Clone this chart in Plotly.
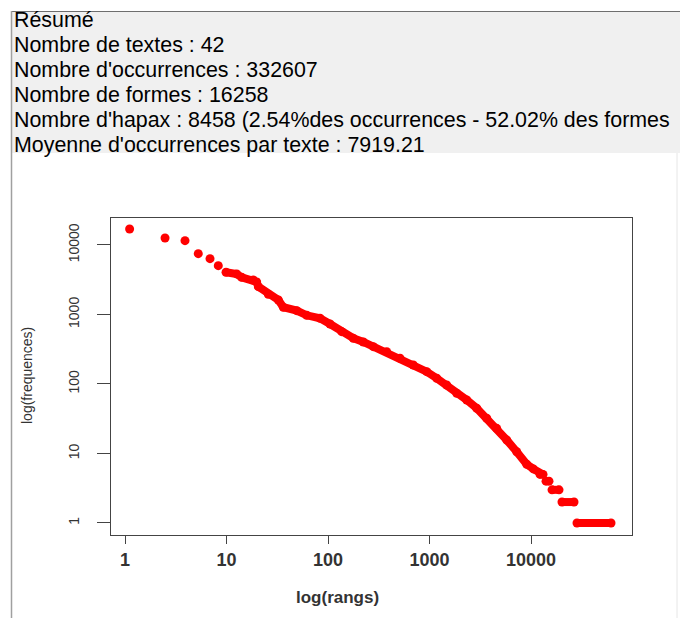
import plotly.graph_objects as go

# ---- data (values as shown by the drawn axes) ----
head_rank = [1.11, 2.48, 3.90, 5.27, 6.88, 8.30]
head_freq = [17000, 12600, 11530, 7500, 6350, 5040]

curve_rank = [9.89, 12.6, 14.1, 18.4, 19.8, 20.6, 25.8, 32.4, 36.3, 49.2, 61.7,
              83.4, 104.7, 136.4, 177.5, 222.8, 279.4, 378.6, 512, 692, 938,
              1178, 1476, 1854, 2327, 2917, 3661, 4592, 5765, 7230, 9075,
              10540, 12270, 13130]
curve_freq = [4050, 3830, 3430, 3135, 2935, 2510, 1953, 1617, 1270, 1135, 973,
              882, 730, 566, 455, 402, 344, 291.7, 234.4, 187.6, 150.3,
              120.8, 96.8, 73.5, 58.9, 44.7, 32.1, 23.0, 15.6, 10.6, 7,
              6, 5, 5]

step_freq = [4, 3, 2, 1]
step_start = [14060, 16110, 20190, 28380]
step_end = [15030, 18880, 26540, 61400]

x_ticks = [1, 10, 100, 1000, 10000]
y_ticks = [1, 10, 100, 1000, 10000]

summary_lines = [
    "Résumé",
    "Nombre de textes : 42",
    "Nombre d'occurrences : 332607",
    "Nombre de formes : 16258",
    "Nombre d'hapax : 8458 (2.54%des occurrences - 52.02% des formes",
    "Moyenne d'occurrences par texte : 7919.21",
]

RED = "#ff0000"
FONT = "Liberation Sans, Arial, sans-serif"

# ---- build traces ----
xs, ys = [], []
for r, f in zip(curve_rank, curve_freq):
    xs.append(r)
    ys.append(f)
for f, a, b in zip(step_freq, step_start, step_end):
    xs += [None, a, b]
    ys += [None, f, f]

fig = go.Figure()
fig.add_trace(go.Scatter(x=head_rank, y=head_freq, mode="markers",
                         marker=dict(color=RED, size=9, line=dict(width=0)),
                         showlegend=False, hoverinfo="skip"))
fig.add_trace(go.Scatter(x=xs, y=ys, mode="lines+markers",
                         line=dict(color=RED, width=8),
                         marker=dict(color=RED, size=9, line=dict(width=0)),
                         connectgaps=False, showlegend=False, hoverinfo="skip"))

# pixel helpers for layout decoration (plot area 111..632 x 218..535)
L, R, T, B = 111, 632, 218, 535
def px(x):
    return (x - L) / (R - L)
def py(y):
    return (B - y) / (B - T)

shapes = [
    dict(type="rect", xref="paper", yref="paper", x0=px(12), x1=px(681),
         y0=py(153), y1=py(12), fillcolor="#f0f0f0", line=dict(width=0), layer="below"),
    dict(type="line", xref="paper", yref="paper", x0=px(11), x1=px(681),
         y0=py(11.5), y1=py(11.5), line=dict(color="#6e6e6e", width=1)),
    dict(type="line", xref="paper", yref="paper", x0=px(11.5), x1=px(11.5),
         y0=py(11), y1=py(619), line=dict(color="#a0a0a0", width=1.5)),
    dict(type="line", xref="paper", yref="paper", x0=px(677), x1=px(677),
         y0=py(153), y1=py(619), line=dict(color="#e6e6e6", width=1)),
]

line_y = [20, 45, 70, 95, 120, 145]
annotations = []
for txt, yy in zip(summary_lines, line_y):
    annotations.append(dict(text=txt, xref="paper", yref="paper", x=px(12), y=py(yy),
                            xanchor="left", yanchor="middle", showarrow=False,
                            font=dict(family=FONT, size=21.4, color="#000")))
annotations.append(dict(text="log(rangs)", xref="paper", yref="paper", x=px(337), y=py(597),
                        xanchor="center", yanchor="middle", showarrow=False,
                        font=dict(family=FONT, size=17, color="#333", weight="bold")))
annotations.append(dict(text="log(frequences)", xref="paper", yref="paper", x=px(27), y=py(376),
                        xanchor="center", yanchor="middle", showarrow=False, textangle=-90,
                        font=dict(family=FONT, size=14, color="#333")))

fig.update_layout(
    width=680, height=618, autosize=False,
    margin=dict(l=L, r=680 - R, t=T, b=618 - B),
    paper_bgcolor="white", plot_bgcolor="white",
    shapes=shapes, annotations=annotations,
    xaxis=dict(type="log", range=[-0.138, 4.995], tickvals=x_ticks,
               ticktext=[str(v) for v in x_ticks], showgrid=False, zeroline=False,
               showline=True, mirror=True, linecolor="#444", linewidth=1.2,
               ticks="outside", ticklen=8, tickcolor="#444", tickwidth=1.2,
               tickfont=dict(family=FONT, size=18, color="#333", weight="bold")),
    yaxis=dict(type="log", range=[-0.173, 4.388], tickvals=y_ticks,
               ticktext=[str(v) for v in y_ticks], showgrid=False, zeroline=False,
               showline=True, mirror=True, linecolor="#444", linewidth=1.2,
               ticks="outside", ticklen=13, tickcolor="#444", tickwidth=1.2,
               tickangle=-90, ticklabelstandoff=12,
               tickfont=dict(family=FONT, size=14, color="#333")),
)

fig.write_html("out.html")
